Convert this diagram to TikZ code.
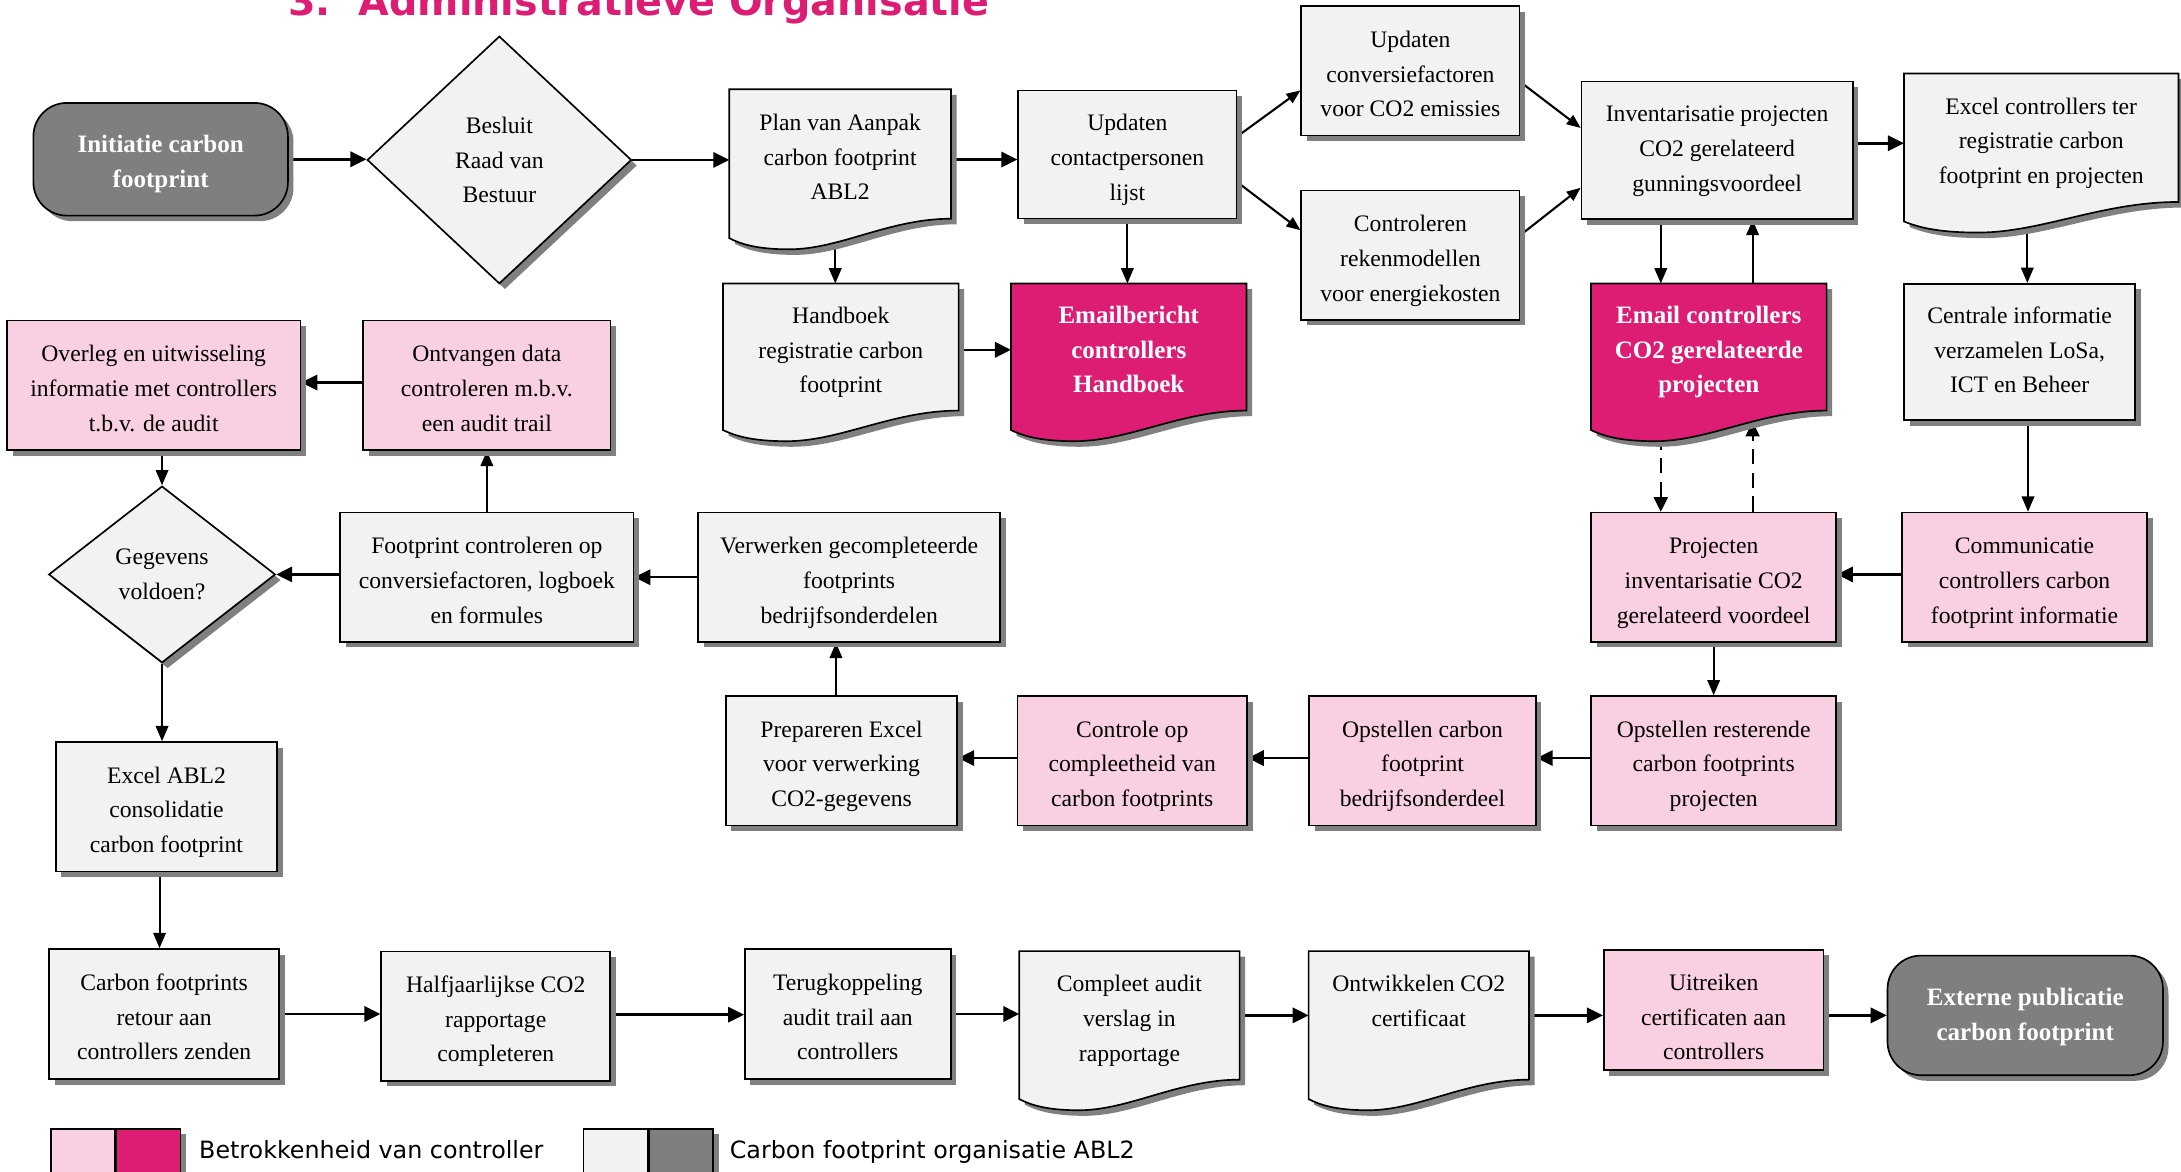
\documentclass[tikz,border=0pt]{standalone}
\usepackage{fontspec}
\setmainfont{Liberation Serif}
\newfontfamily\sansf{DejaVu Sans}
\usetikzlibrary{arrows.meta,shapes.geometric,shadows,calc}
\definecolor{lightg}{HTML}{F2F2F2}
\definecolor{pinkc}{HTML}{F9CFE2}
\definecolor{magc}{HTML}{DD1C74}
\definecolor{darkg}{HTML}{7F7F7F}
\definecolor{shadowc}{HTML}{808080}
\pgfdeclarelayer{conn}
\pgfdeclarelayer{docs}
\pgfsetlayers{conn,docs,main}
\newcommand{\boxfont}{\fontsize{17}{25}\selectfont}
\newcommand{\bboxfont}{\fontsize{18}{25}\selectfont\bfseries}
\newcommand{\legfont}{\sansf\fontsize{17.1}{20}\selectfont}
\newcommand{\titlefont}{\sansf\bfseries\fontsize{28.5}{32}\selectfont}
\newcommand{\docwave}[2]{%
  \path[#2] let \p1=(#1.north west), \p2=(#1.south east) in
   (\p1) -- (\x2,\y1) -- (\p2)
   .. controls ({\x1+0.72*(\x2-\x1)},\y2) and ({\x1+0.5*(\x2-\x1)},{\y2-22pt}) .. ({\x1+0.27*(\x2-\x1)},{\y2-22pt})
   .. controls ({\x1+0.12*(\x2-\x1)},{\y2-22pt}) and ({\x1+0.05*(\x2-\x1)},{\y2-18pt}) .. (\x1,{\y2-14pt}) -- cycle;}
\tikzset{
  sz/.style 2 args={minimum width=#1pt, minimum height=#2pt},
  shad/.style={general shadow={fill=shadowc, shadow xshift=4pt, shadow yshift=-4pt}},
  th/.style={text height=#1pt, text depth=4pt},
  box/.style={draw=black, line width=1.2pt, inner sep=0pt, align=center, font=\boxfont, shad},
  gbox/.style={box, fill=lightg, th=70},
  pbox/.style={box, fill=pinkc, th=70},
  term/.style={box, fill=darkg, rounded corners=24pt, text=white, font=\bboxfont},
  diam/.style={box, diamond, fill=lightg},
  docn/.style={inner sep=0pt, align=center, font=\boxfont, th=70},
  docg/.style={draw=black, line width=1.2pt, fill=lightg, shad},
  docm/.style={draw=black, line width=1.2pt, fill=magc, shad},
  arrH/.style={line width=1.8pt, -{Triangle[length=11.5pt,width=11pt]}},
  arrV/.style={line width=1.4pt, -{Triangle[length=11pt,width=9pt]}},
  arrD/.style={line width=1.5pt, -{Triangle[length=10pt,width=8pt]}},
  arrDash/.style={line width=1.6pt, -{Triangle[length=10.5pt,width=10pt]}, dash pattern=on 11pt off 6pt},
}
\begin{document}
\begin{tikzpicture}[x=1pt,y=-1pt]
\useasboundingbox (0,0) rectangle (1568,842);

% title
\node[anchor=base west, inner sep=0pt, font=\titlefont, text=magc] (title) at (207,11) {3.\hspace{20pt}Administratieve Organisatie};

% row 1
\node[term, sz={183}{81}, th=44] (init) at (115.5,114.5) {Initiatie carbon\\footprint};
\node[diam, sz={190}{178}] (besluit) at (359,115) {Besluit\\Raad van\\Bestuur};
\node[docn, sz={159}{92.7}] (plan) at (604,110.7) {Plan van Aanpak\\carbon footprint\\ABL2};
\node[gbox, sz={157}{92}] (upd1) at (810.5,111) {Updaten\\contactpersonen\\lijst};
\node[gbox, sz={157}{93}] (upd2) at (1014,51) {Updaten\\conversiefactoren\\voor CO2 emissies};
\node[gbox, sz={157}{93}] (contr) at (1014,183.5) {Controleren\\rekenmodellen\\voor energiekosten};
\node[gbox, sz={195}{99}, th=63] (inv) at (1234.5,108) {Inventarisatie projecten\\CO2 gerelateerd\\gunningsvoordeel};
\node[docn, sz={197}{92}] (excel) at (1467.5,99) {Excel controllers ter\\registratie carbon\\footprint en projecten};

% row 2
\node[docn, sz={169}{91}] (handboek) at (604.5,249.5) {Handboek\\registratie carbon\\footprint};
\node[docn, sz={169}{91}, font=\bboxfont, text=white] (email1) at (811.5,249.5) {Emailbericht\\controllers\\Handboek};
\node[docn, sz={169}{91}, font=\bboxfont, text=white] (email2) at (1228.5,249.5) {Email controllers\\CO2 gerelateerde\\projecten};
\node[gbox, sz={166}{98}, th=63] (centrale) at (1452,253) {Centrale informatie\\verzamelen LoSa,\\ICT en Beheer};
\node[pbox, sz={211}{93}] (overleg) at (110.5,277) {Overleg en uitwisseling\\informatie met controllers\\t.b.v. de audit};
\node[pbox, sz={178}{93}] (ontvangen) at (350,277) {Ontvangen data\\controleren m.b.v.\\een audit trail};

% row 3
\node[diam, sz={163}{127}] (gegevens) at (116.5,413) {Gegevens\\voldoen?};
\node[gbox, sz={211}{93}] (footprint) at (350,415) {Footprint controleren op\\conversiefactoren, logboek\\en formules};
\node[gbox, sz={217}{93}] (verwerken) at (610.5,415) {Verwerken gecompleteerde\\footprints\\bedrijfsonderdelen};
\node[pbox, sz={176}{93}] (projecten) at (1232,415) {Projecten\\inventarisatie CO2\\gerelateerd voordeel};
\node[pbox, sz={176}{93}] (comm) at (1455.5,415) {Communicatie\\controllers carbon\\footprint informatie};

% row 4
\node[gbox, sz={159}{93}] (excelabl) at (119.7,580) {Excel ABL2\\consolidatie\\carbon footprint};
\node[gbox, sz={166.5}{93}] (prep) at (605,547) {Prepareren Excel\\voor verwerking\\CO2-gegevens};
\node[pbox, sz={165}{93}] (controle) at (814,547) {Controle op\\compleetheid van\\carbon footprints};
\node[pbox, sz={163}{93}] (opst1) at (1022.7,547) {Opstellen carbon\\footprint\\bedrijfsonderdeel};
\node[pbox, sz={176}{93}] (opst2) at (1232,547) {Opstellen resterende\\carbon footprints\\projecten};

% row 5
\node[gbox, sz={165.5}{93.5}] (retour) at (118,729) {Carbon footprints\\retour aan\\controllers zenden};
\node[gbox, sz={164.7}{93}] (halfj) at (356.4,730.5) {Halfjaarlijkse CO2\\rapportage\\completeren};
\node[gbox, sz={148}{93.5}] (terug) at (609.5,729) {Terugkoppeling\\audit trail aan\\controllers};
\node[docn, sz={158}{92}] (compleet) at (812,730) {Compleet audit\\verslag in\\rapportage};
\node[docn, sz={158}{92}] (ontw) at (1020,730) {Ontwikkelen CO2\\certificaat\\\mbox{}};
\node[pbox, sz={158}{86.5}, th=76] (uitreiken) at (1232,726) {Uitreiken\\certificaten aan\\controllers};
\node[term, sz={198}{86}, th=40.4] (externe) at (1456,730) {Externe publicatie\\carbon footprint};

% legend
\node[box, fill=pinkc, sz={46}{40}, anchor=north west] (lg1) at (36,811) {};
\node[box, fill=magc, sz={46}{40}, anchor=north west] (lg2) at (lg1.north east) {};
\node[anchor=base west, inner sep=0pt, font=\legfont] (lt1) at (143,832.6) {Betrokkenheid van controller};
\node[box, fill=lightg, sz={46}{40}, anchor=north west] (lg3) at (419,811) {};
\node[box, fill=darkg, sz={46}{40}, anchor=north west] (lg4) at (lg3.north east) {};
\node[anchor=base west, inner sep=0pt, font=\legfont] (lt2) at (524.5,832.6) {Carbon footprint organisatie ABL2};

% document shapes
\begin{pgfonlayer}{docs}
\docwave{plan}{docg}
\docwave{excel}{docg}
\docwave{handboek}{docg}
\docwave{email1}{docm}
\docwave{email2}{docm}
\docwave{compleet}{docg}
\docwave{ontw}{docg}
\end{pgfonlayer}

% connectors
\begin{pgfonlayer}{conn}
\draw[arrH] (init.east) -- (init.east -| besluit.west);
\draw[arrH] (besluit.east) -- (besluit.east -| plan.west);
\draw[arrH] ([yshift=-4pt]plan.east) coordinate (c1) -- (c1 -| upd1.west);
\draw[arrH] ([yshift=5pt]inv.east) coordinate (c2) -- (c2 -| excel.west);
\draw[arrH] ([yshift=-2pt]handboek.east) coordinate (c3) -- (c3 -| email1.west);
\draw[arrH] ([yshift=2pt]ontvangen.west) coordinate (c4) -- (c4 -| overleg.east);
\draw[arrH] ([yshift=2pt]footprint.west) coordinate (c5) -- (c5 -| gegevens.east);
\draw[arrH] (verwerken.west) -- (verwerken.west -| footprint.east);
\draw[arrH] ([yshift=2pt]comm.west) coordinate (c6) -- (c6 -| projecten.east);
\draw[arrH] ([yshift=2pt]opst2.west) coordinate (c7) -- (c7 -| opst1.east);
\draw[arrH] ([yshift=2pt]opst1.west) coordinate (c8) -- (c8 -| controle.east);
\draw[arrH] ([yshift=2pt]controle.west) coordinate (c9) -- (c9 -| prep.east);
\draw[arrH] (retour.east) -- (retour.east -| halfj.west);
\draw[arrH] ([yshift=1pt]halfj.east) coordinate (c10) -- (c10 -| terug.west);
\draw[arrH] (terug.east) -- (terug.east -| compleet.west);
\draw[arrH] (compleet.east) -- (compleet.east -| ontw.west);
\draw[arrH] (ontw.east) -- (ontw.east -| uitreiken.west);
\draw[arrH] ([yshift=-4pt]uitreiken.east) coordinate (c11) -- (c11 -| externe.west);

\draw[arrV] ([xshift=-3.5pt]plan.south) coordinate (v1) -- (v1 |- handboek.north);
\draw[arrV] (upd1.south) -- (upd1.south |- email1.north);
\draw[arrV] ([xshift=-40.5pt]inv.south) coordinate (v2) -- (v2 |- email2.north);
\draw[arrV] ([xshift=31.5pt]email2.north) coordinate (v3) -- (v3 |- inv.south);
\draw[arrV] ([xshift=-10pt]excel.south) coordinate (v4) -- (v4 |- centrale.north);
\draw[arrV] ([xshift=6pt]centrale.south) coordinate (v5) -- (v5 |- comm.north);
\draw[arrDash] ([xshift=-34.5pt]email2.south) coordinate (v6) -- (v6 |- projecten.north);
\coordinate (v7) at ([xshift=31.5pt,yshift=-8pt]email2.south);
\draw[arrDash] (v7 |- projecten.north) -- (v7);
\draw[arrV] (projecten.south) -- (projecten.south |- opst2.north);
\draw[arrV] ([xshift=-4pt]prep.north) coordinate (v8) -- (v8 |- verwerken.south);
\draw[arrV] (footprint.north) -- (footprint.north |- ontvangen.south);
\draw[arrV] (gegevens.north |- overleg.south) -- (gegevens.north);
\draw[arrV] (gegevens.south) -- (gegevens.south |- excelabl.north);
\draw[arrV] ([xshift=-5pt]excelabl.south) coordinate (v9) -- (v9 |- retour.north);

\draw[arrD] ([yshift=13pt]upd1.east) -- ([yshift=-14pt]upd2.west);
\draw[arrD] ([yshift=-20pt]upd1.east) -- ([yshift=18pt]contr.west);
\draw[arrD] ([yshift=-8pt]upd2.east) -- ([yshift=16pt]inv.west);
\draw[arrD] ([yshift=14.5pt]contr.east) -- ([yshift=-27pt]inv.west);
\end{pgfonlayer}
\end{tikzpicture}
\end{document}
